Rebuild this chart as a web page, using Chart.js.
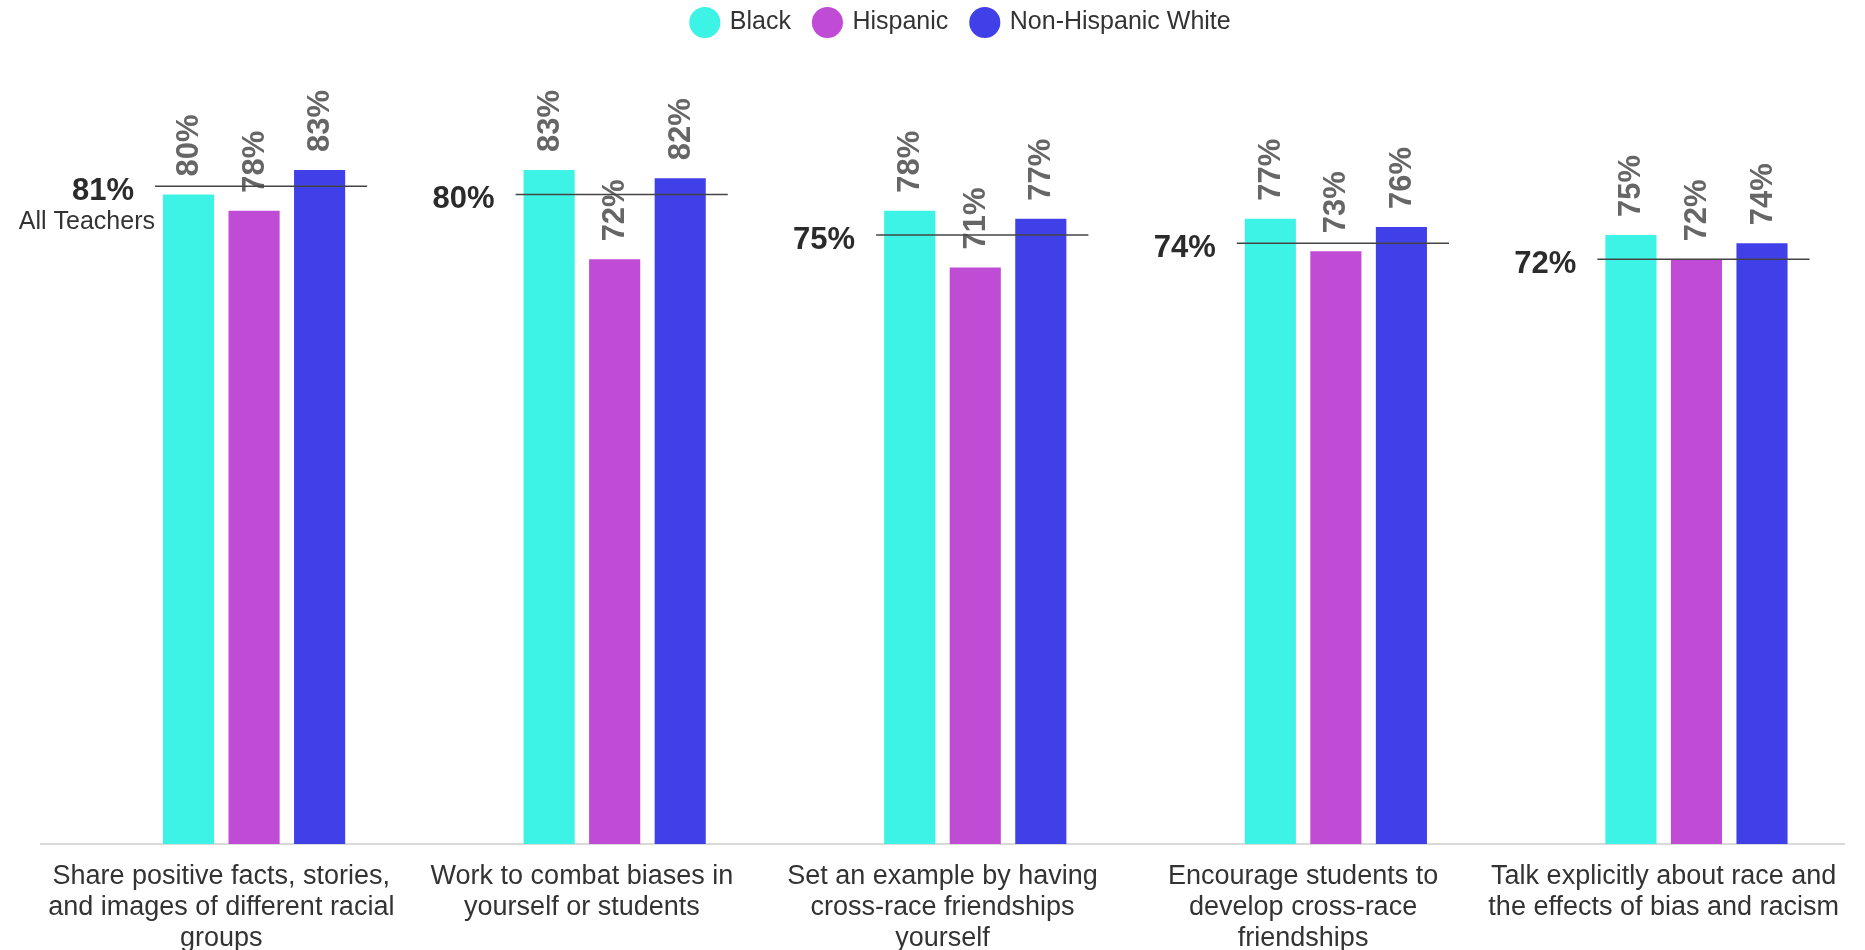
<!DOCTYPE html>
<html>
<head>
<meta charset="utf-8">
<script src="https://cdn.jsdelivr.net/npm/chart.js@4/dist/chart.umd.min.js"></script>
<style>
  html, body { margin: 0; padding: 0; background: #ffffff; }
  #wrap { width: 1865px; height: 950px; position: relative; }
</style>
</head>
<body>
<div id="wrap"><canvas id="c" width="1865" height="950"></canvas></div>
<script>
const categories = [
  ["Share positive facts, stories,", "and images of different racial", "groups"],
  ["Work to combat biases in", "yourself or students"],
  ["Set an example by having", "cross-race friendships", "yourself"],
  ["Encourage students to", "develop cross-race", "friendships"],
  ["Talk explicitly about race and", "the effects of bias and racism"]
];
const allTeachers = [81, 80, 75, 74, 72];
const black = [80, 83, 78, 77, 75];
const hispanic = [78, 72, 71, 73, 72];
const nonHispanicWhite = [83, 82, 77, 76, 74];
const seriesNames = ["All Teachers", "Black", "Hispanic", "Non-Hispanic White"];
const seriesColors = ["rgba(0,0,0,0)", "#3cf3e6", "#c04cd6", "#4040e8"];

const FONT = '"Liberation Sans", Arial, Helvetica, sans-serif';

const legendShift = {
  id: 'legendShift',
  afterLayout(chart) {
    if (chart.legend) {
      chart.legend.left += 19;
      chart.legend.right += 19;
    }
  }
};

const labelPlugin = {
  id: 'labelPlugin',
  afterDatasetsDraw(chart) {
    const ctx = chart.ctx;
    const yScale = chart.scales.y;
    for (let d = 1; d <= 3; d++) {
      const meta = chart.getDatasetMeta(d);
      const vals = chart.data.datasets[d].data;
      meta.data.forEach((bar, i) => {
        ctx.save();
        ctx.translate(bar.x, bar.y - 18);
        ctx.rotate(-Math.PI / 2);
        ctx.font = 'bold 31px ' + FONT;
        ctx.fillStyle = '#666666';
        ctx.textAlign = 'left';
        ctx.textBaseline = 'middle';
        ctx.fillText(vals[i] + '%', 0, 1);
        ctx.restore();
      });
    }
    const m0 = chart.getDatasetMeta(0);
    const m1 = chart.getDatasetMeta(1);
    const m3 = chart.getDatasetMeta(3);
    const avg = chart.data.datasets[0].data;
    m0.data.forEach((bar, i) => {
      const b1 = m1.data[i], b3 = m3.data[i];
      const y = yScale.getPixelForValue(avg[i]);
      const x0 = b1.x - b1.width / 2 - 8;
      const x1 = b3.x + b3.width / 2 + 22;
      ctx.save();
      ctx.strokeStyle = '#444444';
      ctx.lineWidth = 1.5;
      ctx.beginPath();
      ctx.moveTo(x0, y);
      ctx.lineTo(x1, y);
      ctx.stroke();
      ctx.fillStyle = '#2b2b2b';
      ctx.font = 'bold 31px ' + FONT;
      ctx.textAlign = 'right';
      ctx.textBaseline = 'middle';
      ctx.fillText(avg[i] + '%', x0 - 21, y + 5);
      if (i === 0) {
        ctx.font = '25px ' + FONT;
        ctx.fillStyle = '#333333';
        ctx.fillText(seriesNames[0], x0, y + 36);
      }
      ctx.restore();
    });
  }
};

const seriesData = [allTeachers, black, hispanic, nonHispanicWhite];
new Chart(document.getElementById('c'), {
  type: 'bar',
  data: {
    labels: categories,
    datasets: seriesData.map((arr, k) => ({
      label: seriesNames[k],
      data: arr,
      backgroundColor: seriesColors[k],
      borderWidth: 0,
      barPercentage: 0.78,
      categoryPercentage: 0.727
    }))
  },
  options: {
    responsive: false,
    animation: false,
    events: [],
    layout: { padding: { left: 41, right: 21, top: -14, bottom: -21 } },
    plugins: {
      tooltip: { enabled: false },
      legend: {
        display: true,
        position: 'top',
        labels: {
          filter: (item) => item.datasetIndex !== 0,
          usePointStyle: true,
          pointStyle: 'circle',
          boxWidth: 25,
          boxHeight: 22,
          padding: 24,
          color: '#333333',
          font: { size: 25, family: FONT }
        }
      }
    },
    scales: {
      x: {
        grid: { display: false, drawTicks: false },
        border: { display: true, color: '#d9d9d9', width: 2 },
        ticks: {
          autoSkip: false,
          maxRotation: 0,
          padding: 17,
          color: '#333333',
          font: { size: 27, family: FONT, lineHeight: 1.148 }
        }
      },
      y: {
        display: false,
        min: 0,
        max: 98.4
      }
    }
  },
  plugins: [labelPlugin, legendShift]
});
</script>
</body>
</html>
